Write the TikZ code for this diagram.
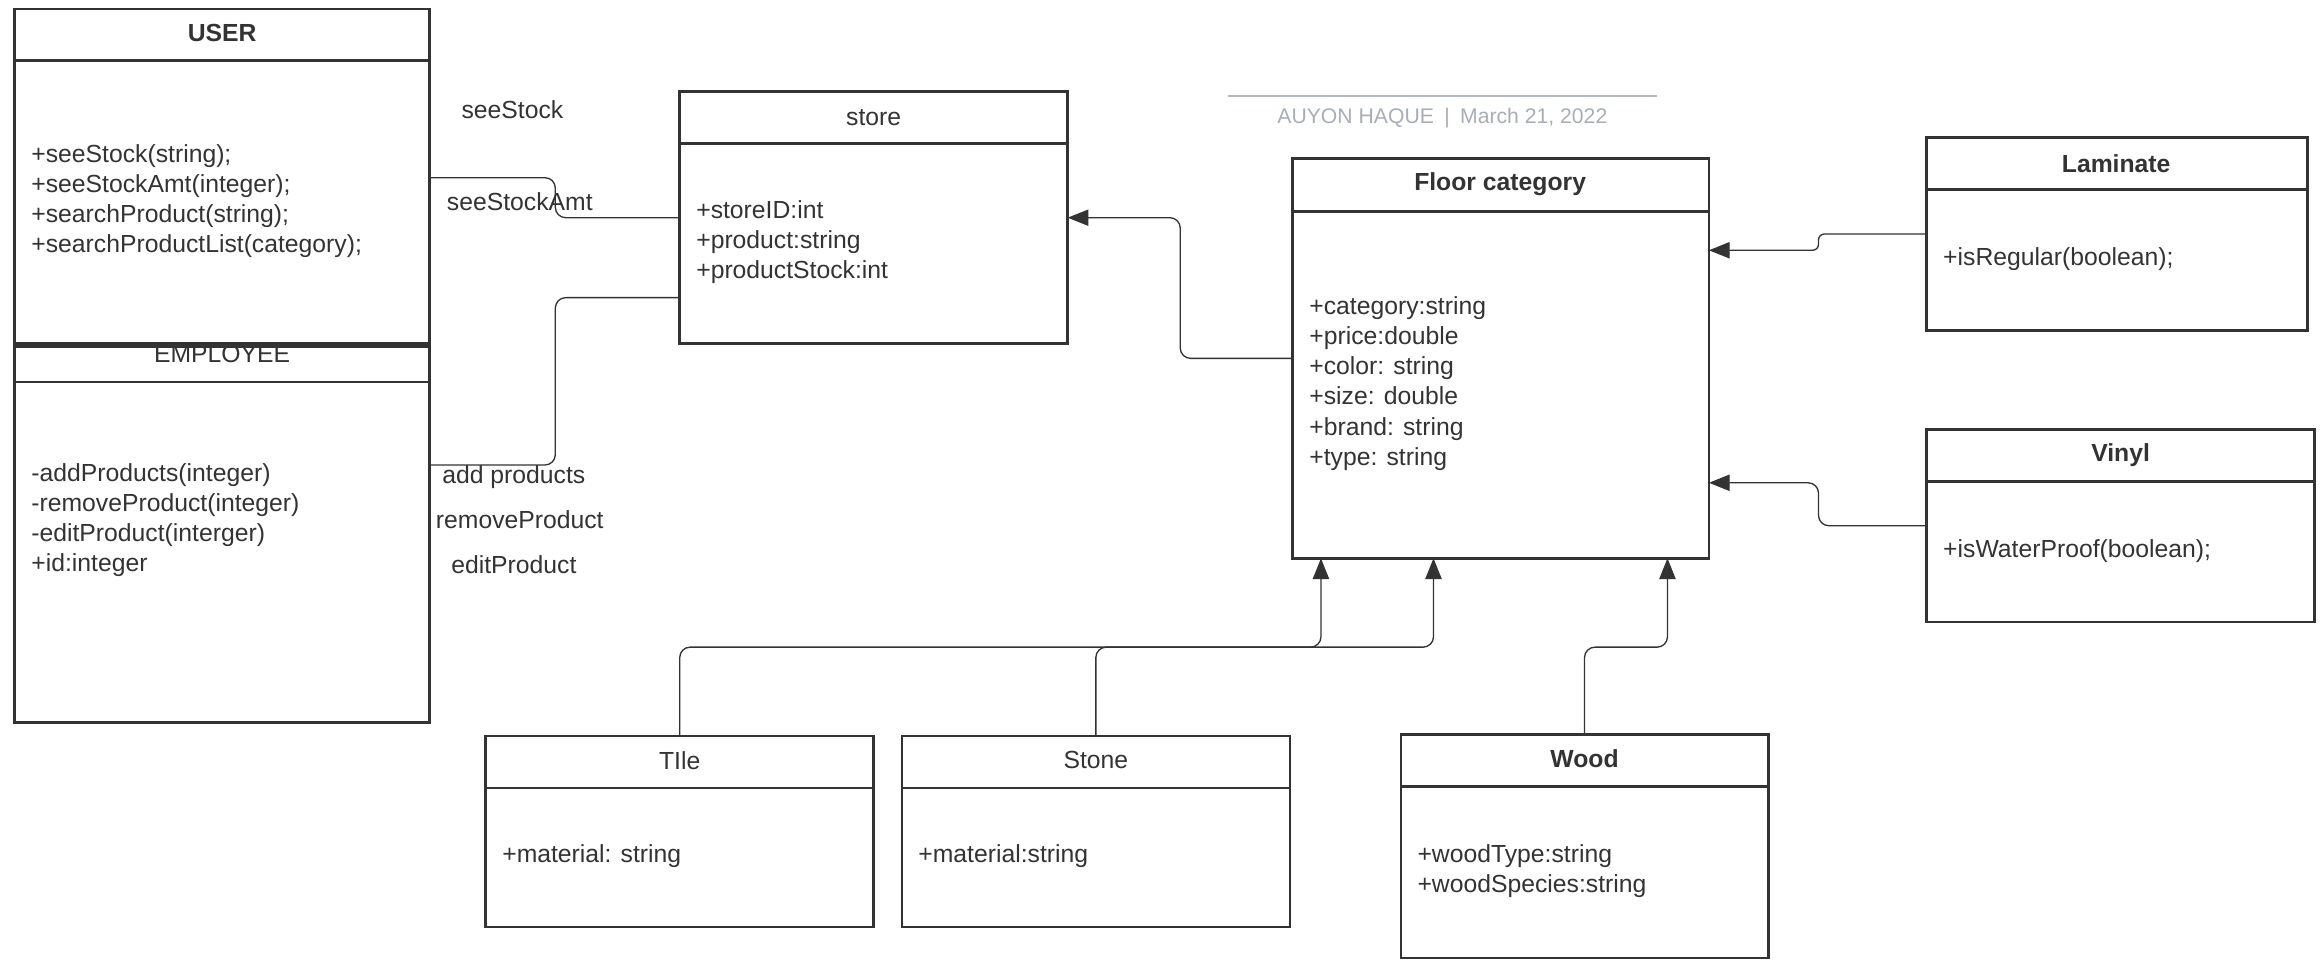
\documentclass[tikz,border=0pt]{standalone}
\usepackage{fontspec}
\setmainfont{Liberation Sans}
\usetikzlibrary{arrows.meta}
\definecolor{ink}{HTML}{333333}
\definecolor{greyline}{HTML}{B4B9C3}
\definecolor{greytext}{HTML}{A9ADB8}
\begin{document}
\begin{tikzpicture}[x=1pt,y=-1pt,
  box/.style={draw=ink, line width=1.8pt, anchor=north west, inner sep=0pt, outer sep=0pt},
  sepline/.style={draw=ink, line width=1.8pt},
  boldtitle/.style={font=\bfseries\fontsize{16.7}{20}\selectfont, text=ink, inner sep=0pt},
  plaintitle/.style={font=\fontsize{16.7}{20}\selectfont, text=ink, inner sep=0pt},
  body/.style={font=\fontsize{16.7}{20.3}\selectfont, text=ink, inner sep=0pt, align=left, anchor=west},
  lbl/.style={font=\fontsize{16.7}{20}\selectfont, text=ink, inner sep=0pt},
  wire/.style={draw=ink, line width=0.9pt, rounded corners=7pt},
  arr/.style={wire, -{Triangle[length=14pt,width=11pt]}},
]
\useasboundingbox (0,0) rectangle (1568,654);

% texts that sit under borders
\node[plaintitle] (employeetitle) at (150,239) {EMPLOYEE};

% boxes
\node[box, minimum width=280pt, minimum height=226pt] (user) at (10,6) {};
\node[box, minimum width=280pt, minimum height=254pt] (employee) at (10,234) {};
\node[box, minimum width=262pt, minimum height=170pt] (store) at (459,62) {};
\node[box, minimum width=281pt, minimum height=270pt] (floor) at (873,107) {};
\node[box, minimum width=257pt, minimum height=130pt] (laminate) at (1301,93) {};
\node[box, minimum width=262pt, minimum height=130pt] (vinyl) at (1301,290) {};
\node[box, minimum width=262pt, minimum height=129pt] (tile) at (328,497) {};
\node[box, minimum width=262pt, minimum height=129pt] (stone) at (609,497) {};
\node[box, minimum width=248pt, minimum height=151pt] (wood) at (946,496) {};

% header separators
\draw[sepline] ([yshift=-35pt]user.north west) -- ([yshift=-35pt]user.north east);
\draw[sepline] ([yshift=-24pt]employee.north west) -- ([yshift=-24pt]employee.north east);
\draw[sepline] ([yshift=-35pt]store.north west) -- ([yshift=-35pt]store.north east);
\draw[sepline] ([yshift=-36pt]floor.north west) -- ([yshift=-36pt]floor.north east);
\draw[sepline] ([yshift=-35pt]laminate.north west) -- ([yshift=-35pt]laminate.north east);
\draw[sepline] ([yshift=-35pt]vinyl.north west) -- ([yshift=-35pt]vinyl.north east);
\draw[sepline] ([yshift=-35pt]tile.north west) -- ([yshift=-35pt]tile.north east);
\draw[sepline] ([yshift=-35pt]stone.north west) -- ([yshift=-35pt]stone.north east);
\draw[sepline] ([yshift=-35pt]wood.north west) -- ([yshift=-35pt]wood.north east);

% titles
\node[boldtitle] (usertitle) at (150,22.5) {USER};
\node[plaintitle] (storetitle) at (590,79.5) {store};
\node[boldtitle] (floortitle) at (1013,124.5) {Floor category};
\node[boldtitle] (laminatetitle) at (1429,110.5) {Laminate};
\node[boldtitle] (vinyltitle) at (1432,307.5) {Vinyl};
\node[plaintitle] (tiletitle) at (459,513.5) {TIle};
\node[plaintitle] (stonetitle) at (740,513.5) {Stone};
\node[boldtitle] (woodtitle) at (1070,512.5) {Wood};

% bodies
\node[body] (userbody) at (21,136) {+seeStock(string);\\+seeStockAmt(integer);\\+searchProduct(string);\\+searchProductList(category);};
\node[body] (employeebody) at (21,351) {-addProducts(integer)\\-removeProduct(integer)\\-editProduct(interger)\\+id:integer};
\node[body] (storebody) at (470,163.5) {+storeID:int\\+product:string\\+productStock:int};
\node[body] (floorbody) at (884,259) {+category:string\\+price:double\\+color: string\\+size: double\\+brand: string\\+type: string};
\node[body] (laminatebody) at (1312,175) {+isRegular(boolean);};
\node[body] (vinylbody) at (1312,372) {+isWaterProof(boolean);};
\node[body] (tilebody) at (339,578) {+material: string};
\node[body] (stonebody) at (620,578) {+material:string};
\node[body] (woodbody) at (957,588) {+woodType:string\\+woodSpecies:string};

% credit
\draw[greyline, line width=1.5pt] (829,65) -- (1119,65);
\node[font=\fontsize{14.3}{17}\selectfont, text=greytext, inner sep=0pt] (credit) at (974,80) {AUYON HAQUE\hspace{7pt}|\hspace{7pt}March 21, 2022};

% connectors
\draw[wire] (user.east |- 0,120) -- (375,120) -- (375,147) -- (store.west |- 0,147);
\draw[wire] (employee.east |- 0,314) -- (375,314) -- (375,201) -- (store.west |- 0,201);
\draw[arr] (floor.west |- 0,242) -- (797,242) -- (797,147) -- (store.east |- 0,147);
\draw[arr, rounded corners=4pt] (laminate.west |- 0,158) -- (1228,158) -- (1228,169) -- (floor.east |- 0,169);
\draw[arr] (vinyl.west |- 0,355) -- (1228,355) -- (1228,326) -- (floor.east |- 0,326);
\draw[arr] (tile.north) -- (459,437) -- (892,437) -- (floor.south -| 892,0);
\draw[arr] (stone.north) -- (740,437) -- (968,437) -- (floor.south -| 968,0);
\draw[arr] (wood.north) -- (1070,437) -- (1126,437) -- (floor.south -| 1126,0);

% connector labels
\node[lbl] (lseestock) at (346,74) {seeStock};
\node[lbl] (lseestockamt) at (351,136) {seeStockAmt};
\node[lbl] (laddproducts) at (347,322) {add products};
\node[lbl] (lremoveproduct) at (351,351) {removeProduct};
\node[lbl] (leditproduct) at (347,381) {editProduct};
\end{tikzpicture}
\end{document}
